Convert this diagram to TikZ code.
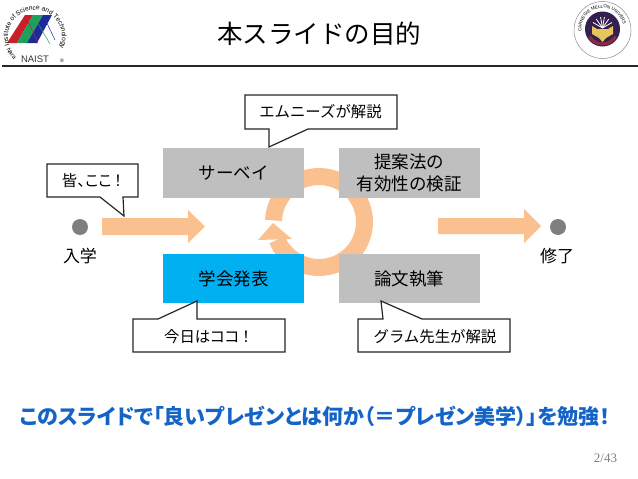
\documentclass[tikz,border=0pt]{standalone}
\usepackage{fontspec}
\setmainfont{Noto Sans CJK JP}
\newfontfamily\palfont[RawFeature=+palt]{Noto Sans CJK JP}
\newfontfamily\latinfont{Liberation Sans}
\newfontfamily\pagefont{Liberation Serif}
\usetikzlibrary{decorations.text}
\definecolor{flowfill}{HTML}{FAC090}
\definecolor{boxgray}{HTML}{BFBFBF}
\definecolor{boxblue}{HTML}{00B0F0}
\definecolor{dotgray}{HTML}{7F7F7F}
\definecolor{goalblue}{HTML}{1464C8}
\definecolor{naistred}{HTML}{C8202A}
\definecolor{naistgreen}{HTML}{1FA05A}
\definecolor{naistblue}{HTML}{1E2A9A}
\definecolor{sealdark}{HTML}{33204F}
\definecolor{sealred}{HTML}{8E2A3A}
\definecolor{sealgold}{HTML}{E6C65A}
\tikzset{
  phasebox/.style={fill=boxgray, minimum width=141, minimum height=49.5, inner sep=0, align=center, font=\fontsize{17.5}{22.5}\selectfont},
  talkline/.style={draw=black!85, line width=1.2, fill=white},
  talktext/.style={font=\fontsize{15.4}{18}\selectfont},
  stagedot/.style={circle, fill=dotgray, minimum size=16, inner sep=0},
  stagetext/.style={font=\fontsize{17}{20}\selectfont},
}
\begin{document}
\begin{tikzpicture}[x=1pt, y=-1pt]
\useasboundingbox (0,0) rectangle (638,479);
\node[font=\fontsize{25.5}{30}\selectfont] (title) at (319,34) {本スライドの目的};
\coordinate (ruleleft) at (2,66);
\coordinate (ruleright) at (638,66);
\draw[line width=2.4, black!85] (ruleleft) -- (ruleright);
\draw[line width=17, flowfill] (319,222) ++(-178:45.5) arc[start angle=-178, end angle=157, radius=45.5];
\fill[flowfill] (273,223) -- (292,239) -- (258,240) -- cycle;
\fill[flowfill] (102,218) -- (188,218) -- (188,210) -- (205,226.5) -- (188,243) -- (188,235) -- (102,235) -- cycle;
\fill[flowfill] (438,218) -- (524,218) -- (524,209) -- (541,226) -- (524,243) -- (524,234) -- (438,234) -- cycle;
\node[phasebox] (survey) at (233.5,173) {サーベイ};
\node[phasebox] (method) at (409,173) {提案法の\\有効性の検証};
\node[phasebox, fill=boxblue] (talk) at (233.5,278.5) {学会発表};
\node[phasebox] (paper) at (409,278.5) {論文執筆};
\node[stagedot] (enter) at (80,227) {};
\node[stagedot] (finish) at (558,227) {};
\node[stagetext] (enterlabel) at (80,256) {入学};
\node[stagetext] (finishlabel) at (557,256) {修了};
\draw[talkline] (245,95) -- (397,95) -- (397,129) -- (308,129) -- (269,147) -- (269,129) -- (245,129) -- cycle;
\draw[talkline] (47,164) -- (138,164) -- (138,197) -- (123,197) -- (124,216) -- (100,197) -- (47,197) -- cycle;
\draw[talkline] (133,319) -- (158,319) -- (197,301) -- (197,319) -- (285,319) -- (285,352) -- (133,352) -- cycle;
\draw[talkline] (358,319) -- (383,319) -- (381,301) -- (422,319) -- (510,319) -- (510,352) -- (358,352) -- cycle;
\node[talktext] (emnlabel) at (320.5,112) {エムニーズが解説};
\node[talktext] (herelabel) at (92,181) {\palfont 皆、ここ\,！};
\node[talktext] (todaylabel) at (207,337) {\palfont 今日はココ\,！};
\node[talktext] (grahamlabel) at (435,337) {グラム先生が解説};
\node[font=\fontsize{21}{26}\selectfont\bfseries\palfont, text=goalblue] (goal) at (315,416) {このスライドで「良いプレゼンとは何か（＝プレゼン美学）」を勉強！};
\node[font=\fontsize{13}{15}\selectfont\pagefont, text=black!50] (pageno) at (605.5,458) {2/43};
\fill[naistred] (25,15) -- (7,43) -- (17,43) -- (33,15) -- cycle;
\fill[naistgreen] (33,15) -- (17,43) -- (27,43) -- (43,15) -- cycle;
\fill[naistblue] (43,15) -- (27,43) -- (37,43) -- (52,15) -- cycle;
\draw[naistred, line width=.5] (25,15) -- (38,43);
\draw[naistgreen, line width=.5] (33,15) -- (50,44);
\draw[naistblue, line width=.5] (43,15) -- (55,40);
\path[postaction={decorate, decoration={text along path, text align=center, text={|\fontsize{6.6}{8}\selectfont\latinfont|Institute of Science and Technology}}}] (35,37) ++(-205:27) arc[start angle=-205, end angle=30, radius=27];
\path[postaction={decorate, decoration={text along path, text align=center, text={|\fontsize{6}{7}\selectfont\latinfont|Nara}}}] (35,37) ++(165:31) arc[start angle=165, end angle=125, radius=31];
\node[font=\fontsize{9.5}{10}\selectfont\latinfont, text=black!80] (naist) at (35,59) {NAIST};
\node[font=\fontsize{5}{5}\selectfont\latinfont, inner sep=0] (naistmark) at (62,61) {®};
\draw[black!45, line width=.5, fill=white] (602.5,30) circle[radius=28.5];
\path[postaction={decorate, decoration={text along path, text align=center, text={|\fontsize{4.5}{5}\selectfont\latinfont|CARNEGIE MELLON UNIVERSITY}}}] (602.5,29) ++(-165:21) arc[start angle=-165, end angle=-15, radius=21];
\fill[sealdark] (602.5,29) circle[radius=17.5];
\draw[sealred, line width=3] (602.5,29) ++(150:15) arc[start angle=150, end angle=30, radius=15];
\fill[sealgold] (592,26) -- (597,29) -- (608,29) -- (613,26) -- (613,34) -- (606,38) -- (602.5,42) -- (599,38) -- (592,34) -- cycle;
\foreach \sealray in {-150,-125,-100,-80,-55,-30}{
  \draw[white, line width=.8] (602.5,28) -- ++(\sealray:11);
}
\end{tikzpicture}
\end{document}
